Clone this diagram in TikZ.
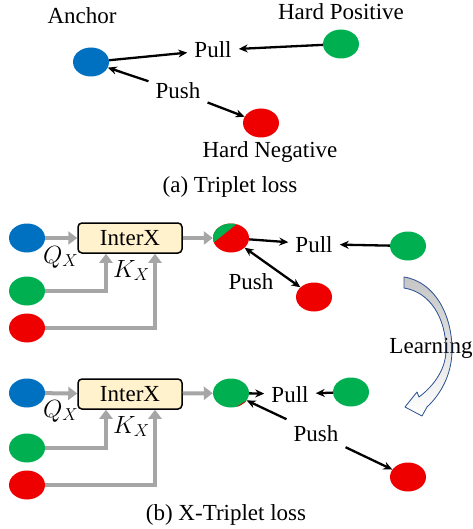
\documentclass[tikz,border=0pt]{standalone}
\usepackage{fontspec}
\setmainfont{Liberation Serif}
\usetikzlibrary{shapes.geometric,arrows.meta}
\definecolor{cblue}{HTML}{0070C0}
\definecolor{cgreen}{HTML}{00B050}
\definecolor{cred}{HTML}{EE0000}
\definecolor{cbox}{HTML}{FFF2CC}
\definecolor{cgray}{HTML}{A6A6A6}
\definecolor{carrow}{HTML}{2F5597}
\begin{document}
\begin{tikzpicture}[x=1pt,y=-1pt, font=\fontsize{23}{27}\selectfont,
 dot/.style={ellipse, minimum width=36pt, minimum height=29pt, inner sep=0pt},
 lbl/.style={inner sep=7pt, anchor=base},
 mlbl/.style={inner sep=0pt, anchor=base west},
 tipb/.tip={Stealth[length=9pt,width=8pt]},
 blk/.style={line width=2.3pt, -tipb},
 dbl/.style={line width=2.3pt, tipb-tipb},
 gry/.style={line width=4pt, cgray, -{Triangle[length=9pt,width=13pt]}},
 boxx/.style={draw, line width=1.5pt, rounded corners=4pt, fill=cbox, minimum width=104pt, minimum height=30pt, inner sep=0pt}]
\useasboundingbox (0,0) rectangle (472,529);

% ---------- (a) ----------
\node[dot, fill=cblue] (A) at (91,62) {};
\node[dot, fill=cgreen] (P) at (341,44) {};
\node[dot, fill=cred] (N) at (261,123) {};
\node[lbl] (tA) at (82,24) {Anchor};
\node[lbl] (tP) at (341,20) {Hard Positive};
\node[lbl] (tN) at (270,158) {Hard Negative};
\node[lbl] (pull1) at (213,58) {Pull};
\node[lbl] (push1) at (178,99) {Push};
\node[lbl] (capA) at (230,193) {(a) Triplet loss};
\draw[blk] (A) -- (pull1);
\draw[blk] (P) -- (pull1);
\draw[blk] (push1) -- (A);
\draw[blk] (push1) -- (N);

% ---------- (b) row 1 ----------
\node[dot, fill=cblue] (q1) at (27,238) {};
\node[dot, fill=cgreen] (g1) at (27,291) {};
\node[dot, fill=cred] (r1) at (27,328) {};
\node[boxx] (x1) at (130,238) {InterX};
\node[mlbl] (qx1) at (43,263) {$Q_X$};
\node[mlbl] (kx1) at (113,277) {$K_X$};
\node[dot, fill=cred] (m1) at (231,238) {};
\begin{scope}
 \clip (m1.center) ellipse [x radius=18pt, y radius=14.5pt];
 \fill[cgreen] (205,249.4) -- (250,213.4) -- (205,213.4) -- cycle;
\end{scope}
\node[lbl] (pull2) at (314,252) {Pull};
\node[dot, fill=cgreen] (p2) at (408,246) {};
\node[lbl] (push2) at (251,289) {Push};
\node[dot, fill=cred] (n2) at (314,297) {};
\draw[gry] (q1) -- (x1);
\draw[gry] (g1.east) -| ([xshift=-24pt]x1.south);
\draw[gry] (r1.east) -| ([xshift=25pt]x1.south);
\draw[gry] (x1) -- (m1);
\draw[blk] (m1) -- (pull2);
\draw[blk] (p2) -- (pull2);
\draw[dbl] (m1) -- (n2);

% ---------- Learning arrow ----------
\fill[top color=gray!45, bottom color=white]
 (404,277) .. controls (435,282) and (452,315) .. (452,350)
 .. controls (452,375) and (440,395) .. (427,407)
 -- (422,416) -- (405,407) -- (417,392) -- (419,397)
 .. controls (435,385) and (446,368) .. (446,350)
 .. controls (446,318) and (430,292) .. (404,288) -- cycle;
\node[lbl] (learn) at (431,353) {Learning};
\draw[carrow, line width=0.8pt, line join=round]
 (404,277) .. controls (435,282) and (452,315) .. (452,350)
 .. controls (452,375) and (440,395) .. (427,407)
 -- (422,416) -- (405,407) -- (417,392) -- (419,397)
 .. controls (435,385) and (446,368) .. (446,350)
 .. controls (446,318) and (430,292) .. (404,288) -- cycle;

% ---------- (b) row 2 ----------
\node[dot, fill=cblue] (q2) at (27,393) {};
\node[dot, fill=cgreen] (g2) at (27,448) {};
\node[dot, fill=cred] (r2) at (27,485) {};
\node[boxx] (x2) at (130,394) {InterX};
\node[mlbl] (qx2) at (43,417) {$Q_X$};
\node[mlbl] (kx2) at (113,433) {$K_X$};
\node[dot, fill=cgreen] (m2) at (231,393) {};
\begin{scope}
 \clip (m2.center) ellipse [x radius=18pt, y radius=14.5pt];
 \fill[cred] (230,410.9) -- (252,397.1) -- (252,412) -- cycle;
\end{scope}
\node[lbl] (pull3) at (290,402) {Pull};
\node[dot, fill=cgreen] (p3) at (351,392) {};
\node[lbl] (push3) at (316,441) {Push};
\node[dot, fill=cred] (n3) at (408,477) {};
\draw[gry] (q2) -- (x2);
\draw[gry] (g2.east) -| ([xshift=-24pt]x2.south);
\draw[gry] (r2.east) -| ([xshift=25pt]x2.south);
\draw[gry] (x2) -- (m2);
\draw[blk] (m2) -- (pull3);
\draw[blk] (p3) -- (pull3);
\draw[blk] (push3) -- (m2);
\draw[blk] (push3) -- (n3);
\node[lbl] (capB) at (226,520) {(b) X-Triplet loss};
\end{tikzpicture}
\end{document}
